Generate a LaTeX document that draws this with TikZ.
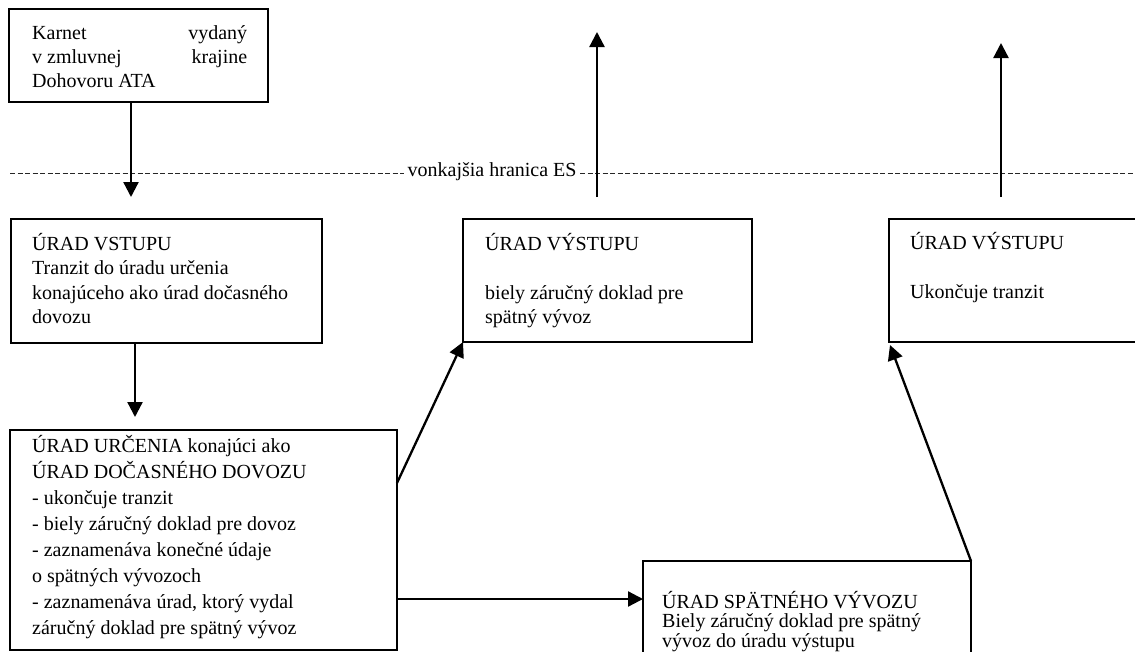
\documentclass[tikz,border=0pt]{standalone}
\usepackage{fontspec}
\setmainfont{Liberation Serif}
\usetikzlibrary{arrows.meta,calc}

% text block: width, line distance, lines
\newcommand\tlines[3]{\parbox[t]{#1}{\raggedright\baselineskip=#2\relax #3}}

\tikzset{
  box/.style={draw, line width=1.8pt, rectangle, inner sep=0pt, outer sep=0pt, anchor=north west},
  arr/.style={line width=2.3pt, -{Triangle[length=15pt,width=15pt]}},
  txt/.style={anchor=base west, inner sep=0pt, font=\fontsize{20}{24.5}\selectfont},
  border/.style={dash pattern=on 5pt off 2.5pt, line width=1pt, black!85}
}

\begin{document}
\begin{tikzpicture}[x=1pt,y=-1pt]
\useasboundingbox (0,0) rectangle (1135,651);
\clip (0,0) rectangle (1135,651);

% offices
\node[box, minimum width=259pt, minimum height=93pt]  (karnet) at (9,9) {};
\node[box, minimum width=311pt, minimum height=124pt] (vst)    at (11,219) {};
\node[box, minimum width=289pt, minimum height=123pt] (vysA)   at (463,219) {};
\node[box, minimum width=270pt, minimum height=123pt] (vysB)   at (889,219) {};
\node[box, minimum width=387pt, minimum height=220pt] (urc)    at (10,430) {};
\node[box, minimum width=328pt, minimum height=110pt] (spat)   at (643,561) {};

% office texts
\node[txt] (tkarnet) at (32,39.5) {\tlines{215pt}{24pt}{Karnet\hfill vydaný\\
  v zmluvnej\hfill krajine\\ Dohovoru ATA}};
\node[txt] (tvst) at (32,250) {\tlines{300pt}{24.5pt}{ÚRAD VSTUPU\\
  Tranzit do úradu určenia\\ konajúceho ako úrad dočasného\\ dovozu}};
\node[txt] (tvysA) at (485,250) {\tlines{280pt}{24.5pt}{ÚRAD VÝSTUPU\\ \mbox{}\\
  biely záručný doklad pre\\ spätný vývoz}};
\node[txt] (tvysB) at (910,249) {\tlines{240pt}{24.5pt}{ÚRAD VÝSTUPU\\ \mbox{}\\
  Ukončuje tranzit}};
\node[txt] (turc) at (32,452) {\tlines{370pt}{26pt}{ÚRAD URČENIA konajúci ako\\
  ÚRAD DOČASNÉHO DOVOZU\\ - ukončuje tranzit\\ - biely záručný doklad pre dovoz\\
  - zaznamenáva konečné údaje\\ o spätných vývozoch\\
  - zaznamenáva úrad, ktorý vydal\\ záručný doklad pre spätný vývoz}};
\node[txt] (tspat) at (662,608) {\tlines{310pt}{19.5pt}{ÚRAD SPÄTNÉHO VÝVOZU\\
  Biely záručný doklad pre spätný\\ vývoz do úradu výstupu}};

% outer border of the EU
\node[txt, inner xsep=3.5pt] (hr) at (404,176) {vonkajšia hranica ES};
\coordinate (bl) at (10,173);
\coordinate (br) at (1135,173);
\draw[border] (bl) -- (bl -| hr.west);
\draw[border] (hr.east |- br) -- (br);

% flows
\coordinate (t1) at (131,197);
\draw[arr] (t1 |- karnet.south) -- (t1);
\coordinate (t2) at (135,417);
\draw[arr] (t2 |- vst.south) -- (t2);
\coordinate (s3) at (397,483);
\draw[arr] (s3) -- (vysA.south west);
\coordinate (s4) at (597,197);
\coordinate (t4) at (597,32);
\draw[arr] (s4) -- (t4);
\coordinate (s5) at (1001,197);
\coordinate (t5) at (1001,43);
\draw[arr] (s5) -- (t5);
\coordinate (t6) at (643,599);
\draw[arr] (urc.east |- t6) -- (spat.west |- t6);
\coordinate (t7) at (890,345);
\draw[arr] (spat.north east) -- (t7);
\end{tikzpicture}
\end{document}
